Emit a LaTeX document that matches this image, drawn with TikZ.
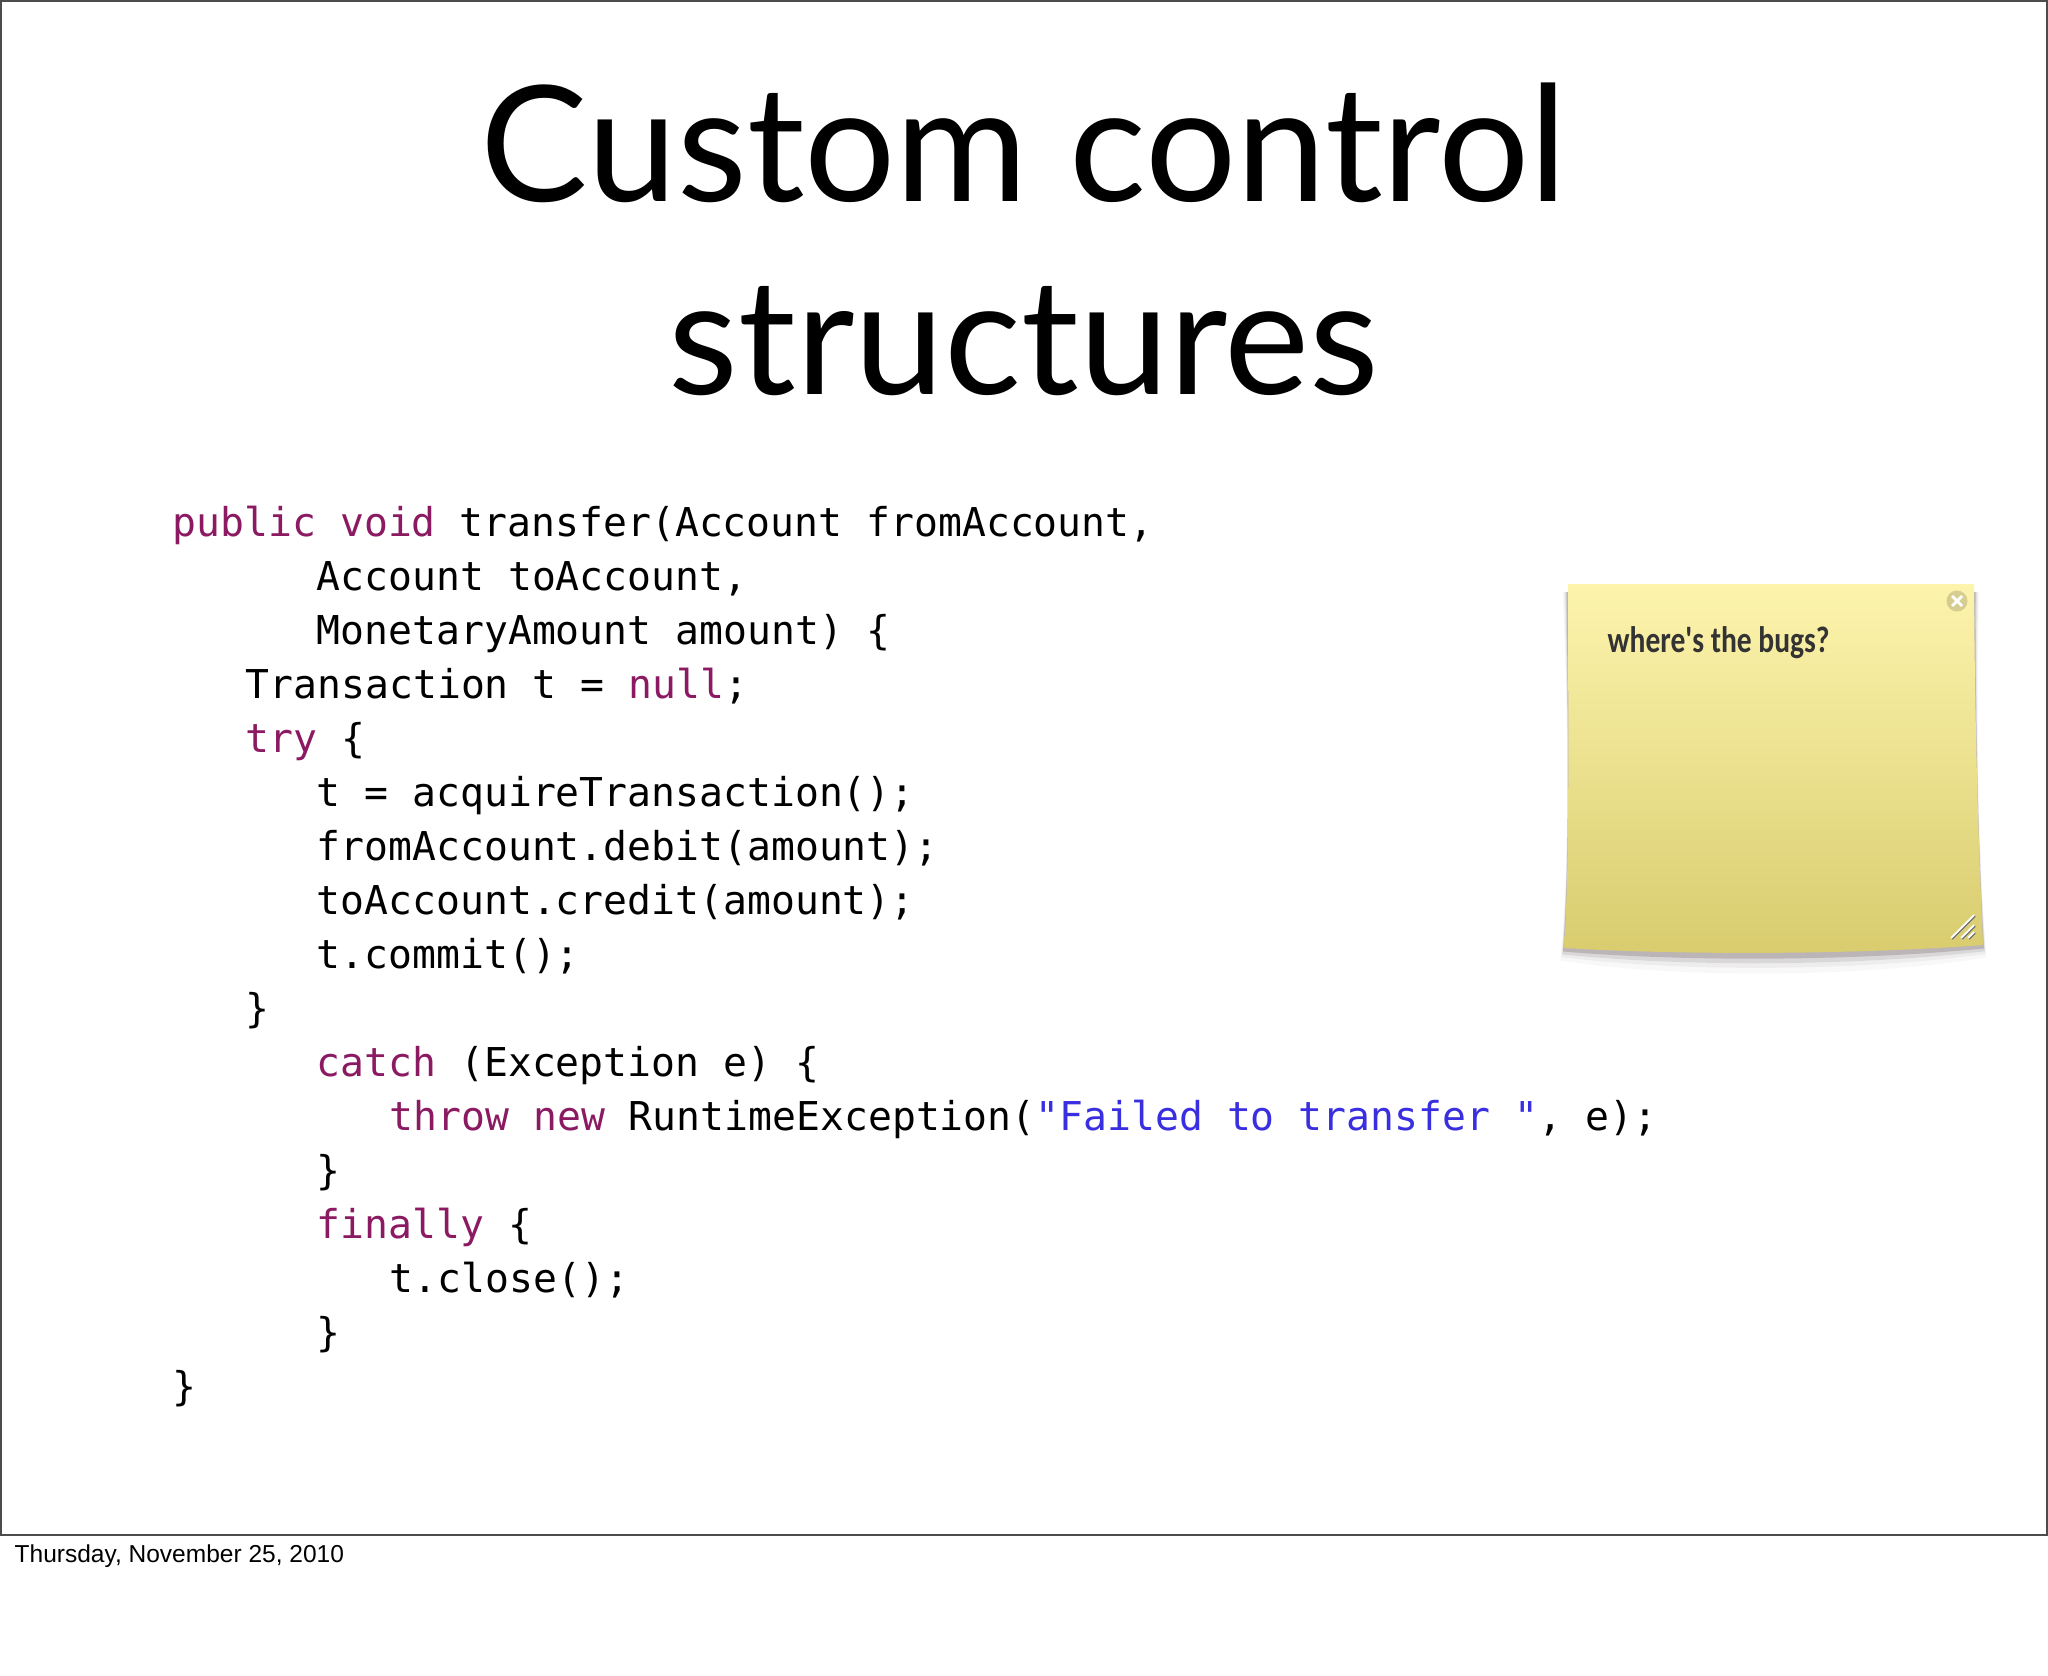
\documentclass[tikz,border=0pt]{standalone}
\usepackage{fontspec}
\setmonofont{DejaVu Sans Mono}
\newfontfamily\titlefont{Lato}
\newfontfamily\notefont[FakeStretch=0.8]{Carlito}
\newfontfamily\datefont{Liberation Sans}
\definecolor{keyword}{HTML}{8B1A63}
\definecolor{strlit}{HTML}{3A2FE0}
\definecolor{notetop}{HTML}{FDF4AD}
\definecolor{notebottom}{HTML}{D8CC6E}
\newcommand{\kw}[1]{\textcolor{keyword}{#1}}
\newcommand{\str}[1]{\textcolor{strlit}{#1}}
\tikzset{
  codeline/.style={anchor=base west,inner sep=0pt,font=\fontsize{11.3}{13}\selectfont\ttfamily},
  titleline/.style={anchor=base,inner sep=0pt,font=\fontsize{45.8}{50}\selectfont\titlefont},
}
\begin{document}
\begin{tikzpicture}[x=0.01cm,y=-0.01cm]
    \useasboundingbox (0,0) rectangle (2048,1676);
    \fill[white] (0,0) rectangle (2048,1676);
    \draw[line width=0.6pt,black!70] (1,1) rectangle (2047,1535);
    % title
    \node[titleline] (title1) at (1024,202) {Custom control};
    \node[titleline] (title2) at (1024,394) {structures};
    % code
    \node[codeline] (line1) at (172,536) {\kw{public void} transfer(Account fromAccount,};
    \node[codeline] (line2) at (316,590) {Account toAccount,};
    \node[codeline] (line3) at (316,644) {MonetaryAmount amount) \{};
    \node[codeline] (line4) at (245,698) {Transaction t = \kw{null};};
    \node[codeline] (line5) at (245,752) {\kw{try} \{};
    \node[codeline] (line6) at (316,806) {t = acquireTransaction();};
    \node[codeline] (line7) at (316,860) {fromAccount.debit(amount);};
    \node[codeline] (line8) at (316,914) {toAccount.credit(amount);};
    \node[codeline] (line9) at (316,968) {t.commit();};
    \node[codeline] (line10) at (245,1022) {\}};
    \node[codeline] (line11) at (316,1076) {\kw{catch} (Exception e) \{};
    \node[codeline] (line12) at (389,1130) {\kw{throw new} RuntimeException(\str{"Failed to transfer "}, e);};
    \node[codeline] (line13) at (316,1184) {\}};
    \node[codeline] (line14) at (316,1238) {\kw{finally} \{};
    \node[codeline] (line15) at (389,1292) {t.close();};
    \node[codeline] (line16) at (316,1346) {\}};
    \node[codeline] (line17) at (172,1400) {\}};
    % sticky note
    \foreach \o/\a in {18/0.03,13/0.06,9/0.12,5/0.22} {
      \fill[black!80!magenta,opacity=\a] (1568-\o*0.3,592) -- (1974+\o*0.3,592) .. controls (1975,760) and (1980,880) .. (1983+\o*0.2,945+\o*0.7)
        .. controls (1850,955+\o*1.3) and (1680,955+\o*1.3) .. (1564-\o*0.2,948+\o*0.7) .. controls (1570,860) and (1568,720) .. cycle;
    }
    \shade[top color=notetop,bottom color=notebottom] (1568,584) -- (1974,584) .. controls (1975,760) and (1980,880) .. (1983,945)
      .. controls (1850,955) and (1680,955) .. (1564,948) .. controls (1570,860) and (1568,720) .. cycle;
    \node[anchor=base west,inner sep=0pt,text=black!80,font=\fontsize{10.5}{12}\selectfont\notefont\bfseries] (note) at (1607,652) {where's the bugs?};
    \node[circle,fill=black!60!notetop,opacity=0.25,minimum size=0.21cm,inner sep=0pt] (closebtn) at (1957,601) {};
    \draw[white,line width=0.8pt] (1952,596) -- (1962,606) (1952,606) -- (1962,596);
    \foreach \s in {0,10,17} {
      \draw[black!55,line width=0.5pt] (1952+\s,939) -- (1975,916+\s);
      \draw[white,line width=0.5pt] (1951+\s,938) -- (1974,915+\s);
    }
    % date
    \node[anchor=base west,inner sep=0pt,font=\fontsize{6.97}{8}\selectfont\datefont] (date) at (14,1562) {Thursday, November 25, 2010};
\end{tikzpicture}
\end{document}
